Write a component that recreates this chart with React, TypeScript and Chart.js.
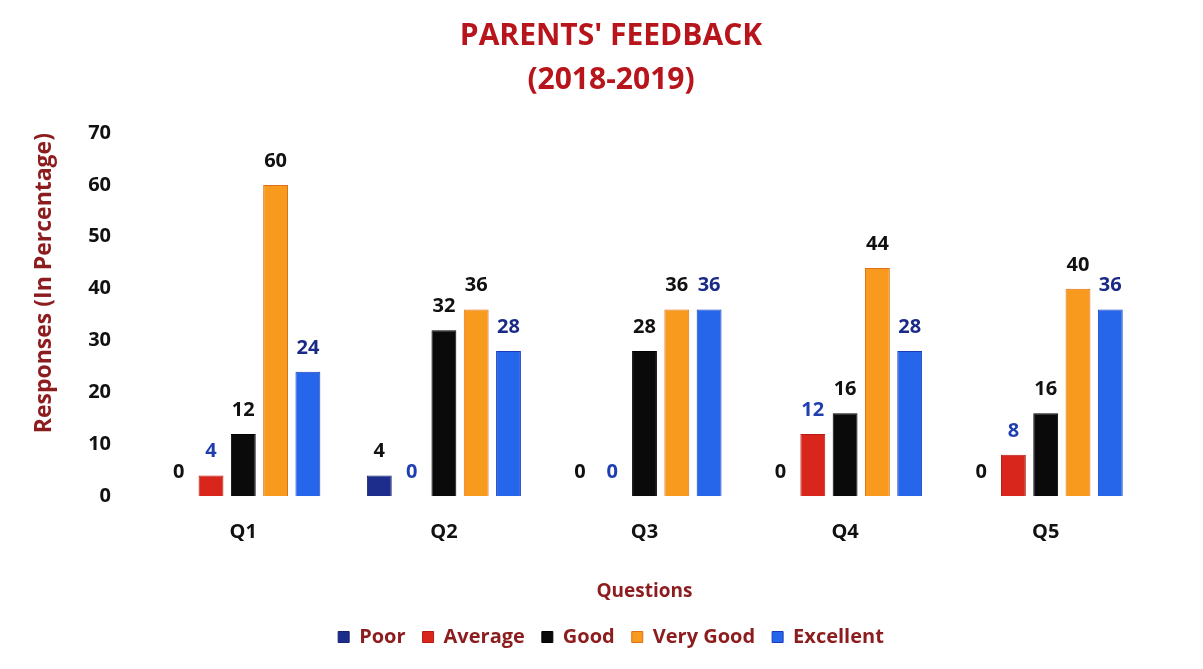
import React, { useEffect, useRef } from 'react';
import { Chart, registerables } from 'chart.js';

Chart.register(...registerables);

const categories = ['Q1', 'Q2', 'Q3', 'Q4', 'Q5'];
const seriesNames = ['Poor', 'Average', 'Good', 'Very Good', 'Excellent'];
const poor = [0, 4, 0, 0, 0];
const average = [4, 0, 0, 12, 8];
const good = [12, 32, 28, 16, 16];
const veryGood = [60, 36, 36, 44, 40];
const excellent = [24, 28, 36, 28, 36];
const yTickValues = [0, 10, 20, 30, 40, 50, 60, 70];

const fillColors = ['#1c2d8c', '#d8261c', '#0a0a0a', '#f89a1e', '#2566ea'];
const borderColors = ['#15226e', '#b81a14', '#000000', '#e07018', '#1a3cbc'];
const labelColors = ['#111111', '#1f3fb0', '#111111', '#111111', '#1a2a86'];

const FONT = "'Open Sans', 'DejaVu Sans', sans-serif";
const MAROON = '#8c1c1e';

const valueLabels = {
  id: 'valueLabels',
  afterDatasetsDraw(chart: any) {
    const ctx = chart.ctx;
    ctx.save();
    ctx.font = `bold 20px ${FONT}`;
    ctx.textAlign = 'center';
    ctx.textBaseline = 'alphabetic';
    chart.data.datasets.forEach((ds: any, i: number) => {
      const meta = chart.getDatasetMeta(i);
      ctx.fillStyle = labelColors[i];
      meta.data.forEach((el: any, j: number) => {
        ctx.fillText(String(ds.data[j]), el.x, el.y - 18);
      });
    });
    ctx.restore();
  },
};

export default function App() {
  const canvasRef = useRef<HTMLCanvasElement | null>(null);

  useEffect(() => {
    document.body.style.margin = '0';
    const canvas = canvasRef.current;
    if (!canvas) return;
    const seriesData = [poor, average, good, veryGood, excellent];
    const chart = new Chart(canvas, {
      type: 'bar',
      data: {
        labels: categories,
        datasets: seriesNames.map((name, i) => ({
          label: name,
          data: seriesData[i],
          backgroundColor: fillColors[i],
          borderColor: borderColors[i],
          borderWidth: 1,
          categoryPercentage: 0.805,
          barPercentage: 0.77,
        })),
      },
      options: {
        responsive: false,
        animation: false,
        layout: { padding: { left: 76, right: 57, top: 0, bottom: 12 } },
        plugins: {
          tooltip: { enabled: false },
          title: {
            display: true,
            text: ["PARENTS' FEEDBACK", '(2018-2019)'],
            color: '#b8141c',
            font: { family: FONT, size: 30, weight: 'bold', lineHeight: 1.45 },
            padding: { top: 15, bottom: 31 },
          },
          legend: {
            position: 'bottom',
            labels: {
              color: MAROON,
              font: { family: FONT, size: 20, weight: 'bold' },
              boxWidth: 11,
              boxHeight: 11,
              padding: 17,
            },
          },
        },
        scales: {
          x: {
            grid: { display: false, drawTicks: false },
            border: { display: false },
            ticks: {
              color: '#111111',
              font: { family: FONT, size: 20, weight: 'bold' },
              padding: 24,
            },
            title: {
              display: true,
              text: 'Questions',
              color: MAROON,
              font: { family: FONT, size: 19, weight: 'bold' },
              padding: { top: 12, bottom: 7 },
            },
          },
          y: {
            min: 0,
            max: 70,
            grid: { display: false, drawTicks: false },
            border: { display: false },
            afterFit: (scale: any) => {
              scale.width = 67;
            },
            afterBuildTicks: (scale: any) => {
              scale.ticks = yTickValues.map((v) => ({ value: v }));
            },
            ticks: {
              color: '#111111',
              font: { family: FONT, size: 20, weight: 'bold' },
              padding: 32,
            },
            title: {
              display: true,
              text: 'Responses (In Percentage)',
              align: 'end',
              color: MAROON,
              font: { family: FONT, size: 23, weight: 'bold' },
              padding: { top: -45, bottom: 0 },
            },
          },
        },
      },
      plugins: [valueLabels],
    });
    return () => chart.destroy();
  }, []);

  return (
    <div style={{ width: 1203, height: 669, background: '#ffffff' }}>
      <canvas ref={canvasRef} width={1203} height={669} />
    </div>
  );
}
